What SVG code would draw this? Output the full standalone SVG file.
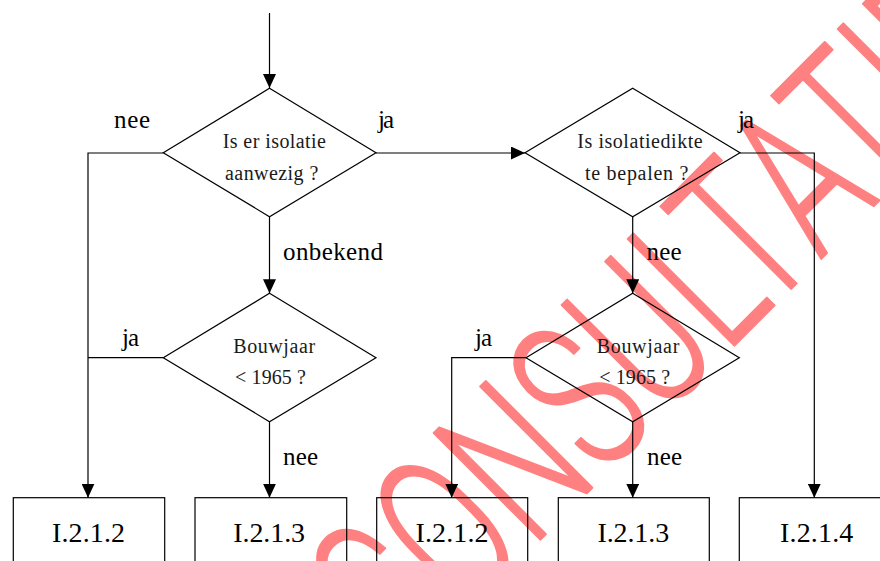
<svg xmlns="http://www.w3.org/2000/svg" width="880" height="561" viewBox="0 0 880 561">
<style>
  .shape { fill: none; stroke: #000; stroke-width: 1.2; }
  .conn { fill: none; stroke: #000; stroke-width: 1.2; }
  .dt { font-family: "Liberation Serif", "Times New Roman", serif; font-size: 20px; fill: #1a1a1a; text-anchor: middle; }
  .lbl { font-family: "Liberation Serif", "Times New Roman", serif; font-size: 25px; fill: #000; text-anchor: middle; }
  .bt { font-family: "Liberation Serif", "Times New Roman", serif; font-size: 28px; fill: #000; text-anchor: middle; }
  .wm { font-family: Roboto, "Liberation Sans", Arial, sans-serif; font-weight: 300; font-size: 212px; fill: #ff8080; stroke: #ff8080; stroke-width: 2; stroke-linejoin: round; }
</style>
<defs>
  <marker id="arr" markerUnits="userSpaceOnUse" markerWidth="14" markerHeight="13" refX="14" refY="6.5" orient="auto">
    <path d="M0,0 L14,6.5 L0,13 z" fill="#000"/>
  </marker>
</defs>
<rect width="880" height="561" fill="#fff"/>
<g id="watermark">
  <text class="wm" transform="translate(400,680) rotate(-45) scale(0.66,1)" x="0" y="0">CONSULTATIE</text>
</g>
<g id="connectors">
  <path class="conn" d="M269.5,13 V88" marker-end="url(#arr)"/>
  <path class="conn" d="M163.3,153 H88 V497.7" marker-end="url(#arr)"/>
  <path class="conn" d="M376,153 H525" marker-end="url(#arr)"/>
  <path class="conn" d="M269.5,217 V293.3" marker-end="url(#arr)"/>
  <path class="conn" d="M163.3,357.7 H88"/>
  <path class="conn" d="M269.5,421.7 V497.7" marker-end="url(#arr)"/>
  <path class="conn" d="M740,153 H814.3 V497.7" marker-end="url(#arr)"/>
  <path class="conn" d="M632.7,217 V293.3" marker-end="url(#arr)"/>
  <path class="conn" d="M526,357.7 H451.7 V497.7" marker-end="url(#arr)"/>
  <path class="conn" d="M632.7,421.7 V497.7" marker-end="url(#arr)"/>
  <text class="lbl" x="132" y="128.3" textLength="36">nee</text>
  <text class="lbl" x="386" y="128.3" textLength="16">ja</text>
  <text class="lbl" x="333" y="260" textLength="100">onbekend</text>
  <text class="lbl" x="130.5" y="346" textLength="17">ja</text>
  <text class="lbl" x="300.5" y="465" textLength="35">nee</text>
  <text class="lbl" x="746" y="128" textLength="16">ja</text>
  <text class="lbl" x="664" y="260" textLength="35">nee</text>
  <text class="lbl" x="483.5" y="346" textLength="17">ja</text>
  <text class="lbl" x="664.5" y="465" textLength="35">nee</text>
</g>
<g id="d1">
  <polygon class="shape" points="269.5,88.3 376,152.7 269.5,216.7 163.3,152.7"/>
  <text class="dt" x="274.3" y="147.7" textLength="103.3">Is er isolatie</text>
  <text class="dt" x="271.7" y="180" textLength="93.3">aanwezig ?</text>
</g>
<g id="d2">
  <polygon class="shape" points="269.5,293.3 376,357.7 269.5,421.7 163.3,357.7"/>
  <text class="dt" x="274.2" y="353.3" textLength="81.7">Bouwjaar</text>
  <text class="dt" x="270.5" y="384" textLength="71">&lt; 1965 ?</text>
</g>
<g id="d3">
  <polygon class="shape" points="632.7,88.3 740,152.7 632.7,216.7 525,152.7"/>
  <text class="dt" x="640" y="147.7" textLength="125.4">Is isolatiedikte</text>
  <text class="dt" x="636.7" y="180" textLength="103.3">te bepalen ?</text>
</g>
<g id="d4">
  <polygon class="shape" points="632.7,293.3 739.3,357.7 632.7,421.7 526,357.7"/>
  <text class="dt" x="638" y="353.3" textLength="82.7">Bouwjaar</text>
  <text class="dt" x="634.7" y="384" textLength="70.7">&lt; 1965 ?</text>
</g>
<g id="b1">
  <rect class="shape" x="13.3" y="497.7" width="151.4" height="80"/>
  <text class="bt" x="88.5" y="542.3" textLength="73">I.2.1.2</text>
</g>
<g id="b2">
  <rect class="shape" x="195" y="497.7" width="151.7" height="80"/>
  <text class="bt" x="269.2" y="542.3" textLength="71.7">I.2.1.3</text>
</g>
<g id="b3">
  <rect class="shape" x="376.7" y="497.7" width="151" height="80"/>
  <text class="bt" x="452" y="542.3" textLength="73">I.2.1.2</text>
</g>
<g id="b4">
  <rect class="shape" x="558.3" y="497.7" width="151" height="80"/>
  <text class="bt" x="633.3" y="542.3" textLength="71.7">I.2.1.3</text>
</g>
<g id="b5">
  <rect class="shape" x="739.3" y="497.7" width="151" height="80"/>
  <text class="bt" x="816.7" y="542.3" textLength="73.3">I.2.1.4</text>
</g>
</svg>
